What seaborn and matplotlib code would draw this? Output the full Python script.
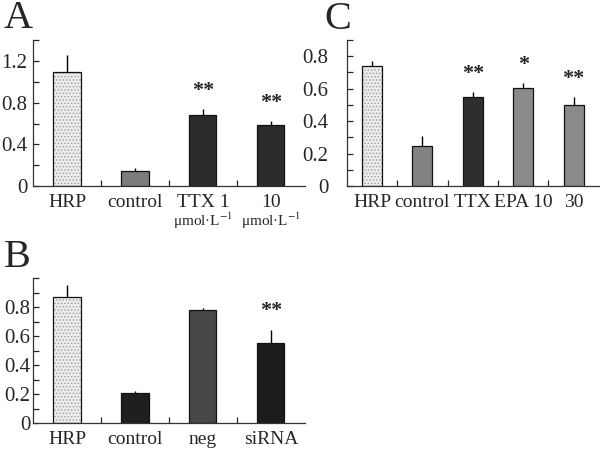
import numpy as np
import pandas as pd
import seaborn as sns
import matplotlib.pyplot as plt
from matplotlib.ticker import FixedLocator

# Panel A: HRP uptake with TTX
a_labels = ["HRP", "control", "TTX 1", "10"]
a_values = [1.09, 0.145, 0.685, 0.59]
a_errors = [0.17, 0.025, 0.055, 0.035]
a_stars = ["", "", "**", "**"]
a_colors = ["#ececec", "#7c7c7c", "#2c2c2c", "#2c2c2c"]
a_units = ["", "", "μmol·L$^{-1}$", "μmol·L$^{-1}$"]
a_yticks = [0, 0.4, 0.8, 1.2]
a_yticklabels = ["0", "0.4", "0.8", "1.2"]

# Panel B: siRNA
b_labels = ["HRP", "control", "neg", "siRNA"]
b_values = [0.87, 0.21, 0.78, 0.55]
b_errors = [0.08, 0.01, 0.015, 0.095]
b_stars = ["", "", "", "**"]
b_colors = ["#ececec", "#1f1f1f", "#474747", "#1c1c1c"]
b_yticks = [0, 0.2, 0.4, 0.6, 0.8]
b_yticklabels = ["0", "0.2", "0.4", "0.6", "0.8"]

# Panel C: TTX and EPA
c_labels = ["HRP", "control", "TTX", "EPA 10", "30"]
c_values = [0.743, 0.25, 0.55, 0.607, 0.50]
c_errors = [0.03, 0.06, 0.03, 0.03, 0.05]
c_stars = ["", "", "**", "*", "**"]
c_colors = ["#ececec", "#838383", "#2e2e2e", "#8a8a8a", "#8a8a8a"]
c_yticks = [0, 0.2, 0.4, 0.6, 0.8]
c_yticklabels = ["0", "0.2", "0.4", "0.6", "0.8"]

sns.set_style("ticks")
plt.rcParams["font.family"] = ["Liberation Serif", "DejaVu Serif"]
plt.rcParams["mathtext.fontset"] = "stix"
plt.rcParams["hatch.linewidth"] = 0.6


def draw_panel(ax, labels, values, errors, stars, colors, ymax, yticks, yticklabels,
               minor_step, ypad):
    df = pd.DataFrame({"group": labels, "value": values})
    sns.barplot(data=df, x="group", y="value", hue="group", order=labels,
                palette=colors, legend=False, width=0.4, edgecolor="#111111",
                linewidth=0.9, errorbar=None, ax=ax)
    # stippled first bar
    first = ax.patches[0]
    first.set_hatch(".....")
    first._hatch_color = (0.62, 0.62, 0.62, 1.0)

    x = np.arange(len(labels))
    tops = np.array(values) + np.array(errors)
    ax.vlines(x, values, tops, color="black", lw=1.0)
    for i, s in enumerate(stars):
        if s:
            ax.annotate(s, (x[i], tops[i]), xytext=(0, 13), textcoords="offset points",
                        ha="center", va="center", fontsize=16, fontweight="bold")

    ax.set_xlim(-0.5, len(labels) - 0.5)
    ax.set_ylim(0, ymax)
    ax.set_yticks(yticks)
    ax.set_yticklabels(yticklabels)
    ax.yaxis.set_minor_locator(FixedLocator(np.arange(0, ymax + 1e-6, minor_step)))
    ax.xaxis.set_minor_locator(FixedLocator(np.arange(0.5, len(labels) - 1, 1)))
    ax.tick_params(axis="y", which="both", direction="in", length=4, width=0.9,
                   labelsize=15, pad=ypad)
    ax.tick_params(axis="x", which="major", length=0, labelsize=14, pad=6)
    ax.tick_params(axis="x", which="minor", direction="in", length=4, width=0.9)
    ax.set_xlabel("")
    ax.set_ylabel("")
    sns.despine(ax=ax)
    for sp in ["left", "bottom"]:
        ax.spines[sp].set_linewidth(0.9)
        ax.spines[sp].set_color("#333333")


fig = plt.figure(figsize=(6, 4.55), dpi=100)
axA = fig.add_axes([0.055, 0.591, 0.453, 0.321])
axC = fig.add_axes([0.578, 0.591, 0.42, 0.321])
axB = fig.add_axes([0.055, 0.070, 0.453, 0.319])

draw_panel(axA, a_labels, a_values, a_errors, a_stars, a_colors, 1.4,
           a_yticks, a_yticklabels, 0.2, 4)
draw_panel(axB, b_labels, b_values, b_errors, b_stars, b_colors, 1.0,
           b_yticks, b_yticklabels, 0.1, 2)
draw_panel(axC, c_labels, c_values, c_errors, c_stars, c_colors, 0.9,
           c_yticks, c_yticklabels, 0.1, 13)

# unit line under the TTX concentrations
for i, u in enumerate(a_units):
    if u:
        axA.text(i, -0.235, u, transform=axA.get_xaxis_transform(), ha="center",
                 va="center", fontsize=11)

fig.text(0.006, 0.938, "A", fontsize=29, va="baseline")
fig.text(0.540, 0.936, "C", fontsize=29, va="baseline")
fig.text(0.006, 0.413, "B", fontsize=29, va="baseline")

fig.savefig("out.png", dpi=100)
